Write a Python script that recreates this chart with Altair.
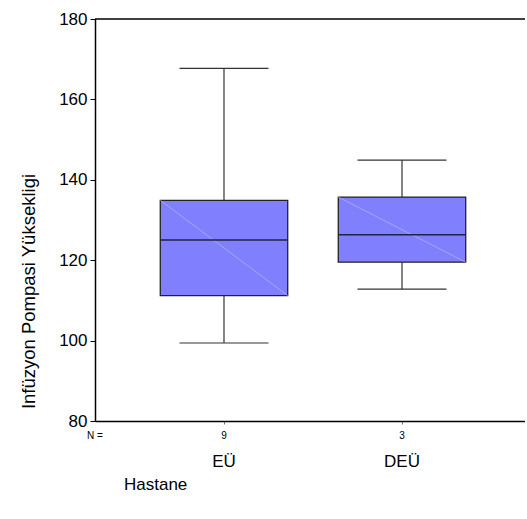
import altair as alt
import pandas as pd

# Data
groups = ["EÜ", "DEÜ"]
positions = [1, 2]
counts = ["9", "3"]
whisker_low = [99.4, 112.8]
q1 = [111.2, 119.5]
median = [125.0, 126.3]
q3 = [134.9, 135.7]
whisker_high = [167.7, 144.9]

df = pd.DataFrame({
    "group": groups,
    "pos": positions,
    "n": counts,
    "wlo": whisker_low,
    "q1": q1,
    "med": median,
    "q3": q3,
    "whi": whisker_high,
})

FONT = "Liberation Sans"
W, H = 430, 402
# 178 px per category unit, first category 129 px from the left axis
xscale = alt.Scale(domain=[0.2753, 0.2753 + W / 178], nice=False, zero=False)
yscale = alt.Scale(domain=[80, 180], nice=False, zero=False)

base = alt.Chart(df).transform_calculate(
    bl="datum.pos - 0.358", br="datum.pos + 0.358",
    cl="datum.pos - 0.25", cr="datum.pos + 0.25",
)

y_axis = alt.Axis(
    values=[80, 100, 120, 140, 160, 180], grid=False, domainColor="black",
    tickColor="black", tickSize=5, labelFontSize=17, labelFont=FONT,
    labelColor="black", labelPadding=3,
    title="Infüzyon Pompasi Yüksekligi", titleFont=FONT, titleFontSize=18.5,
    titleFontWeight="normal", titleColor="black", titleX=-61, titleY=272,
    titleAngle=270, titleBaseline="alphabetic", titleAlign="center",
)
x_axis = alt.Axis(values=[1, 2], labels=False, title="", grid=False,
                  domainColor="black", domainWidth=1.5, tickColor="#777777",
                  tickSize=3)


def X(field):
    return alt.X(field, type="quantitative", scale=xscale, axis=x_axis)


def Y(field):
    return alt.Y(field, type="quantitative", scale=yscale, axis=y_axis)


whisk = base.mark_rule(color="#333333", strokeWidth=1.2).encode(
    x=X("pos"), y=Y("wlo"), y2="whi:Q")
cap_lo = base.mark_rule(color="#333333", strokeWidth=1.2).encode(
    x=X("cl"), x2="cr:Q", y=Y("wlo"))
cap_hi = base.mark_rule(color="#333333", strokeWidth=1.2).encode(
    x=X("cl"), x2="cr:Q", y=Y("whi"))
box = base.mark_rect(fill="#8080ff", stroke="#222222", strokeWidth=1.3).encode(
    x=X("bl"), x2="br:Q", y=Y("q1"), y2="q3:Q")
diag = base.mark_rule(color="#b4b4ff", strokeWidth=0.7).encode(
    x=X("bl"), x2="br:Q", y=Y("q3"), y2="q1:Q")
med = base.mark_rule(color="#222244", strokeWidth=1.5).encode(
    x=X("bl"), x2="br:Q", y=Y("med"))

ntext = base.mark_text(font=FONT, fontSize=10, color="black", baseline="middle").encode(
    x=X("pos"), y=alt.value(417), text="n:N")
gtext = base.mark_text(font=FONT, fontSize=17, color="black", baseline="middle").encode(
    x=X("pos"), y=alt.value(443), text="group:N")
nlabel = alt.Chart(pd.DataFrame({"t": ["N ="]})).mark_text(
    font=FONT, fontSize=10, color="black", baseline="middle").encode(
    x=alt.value(0), y=alt.value(417), text="t:N")
xtitle = alt.Chart(pd.DataFrame({"t": ["Hastane"]})).mark_text(
    font=FONT, fontSize=17, color="black", baseline="middle", align="left").encode(
    x=alt.value(29), y=alt.value(466), text="t:N")
topline = alt.Chart(pd.DataFrame({"a": [0]})).mark_rule(color="black", strokeWidth=1.5).encode(
    x=alt.value(0), x2=alt.value(W), y=alt.value(0), y2=alt.value(0))

chart = alt.layer(
    whisk, cap_lo, cap_hi, box, diag, med, ntext, gtext, nlabel, xtitle, topline
).properties(
    width=W, height=H,
    autosize=alt.AutoSizeParams(type="none"),
    padding={"left": 95, "top": 19, "right": 0, "bottom": 92},
).configure_view(strokeWidth=0, stroke="transparent").configure_axis(
    domainWidth=1.5, grid=False)

chart.save("out.html", embed_options={"renderer": "svg", "actions": False})
